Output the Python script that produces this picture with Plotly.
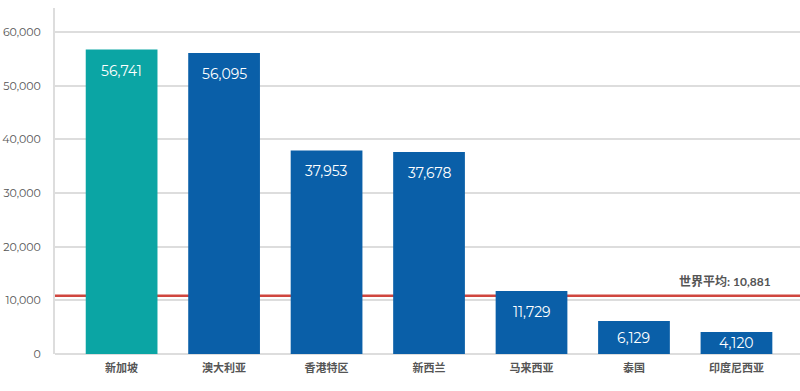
import plotly.graph_objects as go

categories = ["新加坡", "澳大利亚", "香港特区", "新西兰", "马来西亚", "泰国", "印度尼西亚"]
values = [56741, 56095, 37953, 37678, 11729, 6129, 4120]
colors = ["#0BA5A4", "#0A5FA8", "#0A5FA8", "#0A5FA8", "#0A5FA8", "#0A5FA8", "#0A5FA8"]
world_avg = 10881
avg_label = "世界平均: 10,881"
y_ticks = [0, 10000, 20000, 30000, 40000, 50000, 60000]

FIG_W, FIG_H = 800, 391
M_L, M_R, M_T, M_B = 55, 0, 8, 37
Y_MAX = 64500
PLOT_H = FIG_H - M_T - M_B
px_per_unit = PLOT_H / Y_MAX

fig = go.Figure()
fig.add_trace(go.Bar(
    x=list(range(len(categories))), y=values,
    marker=dict(color=colors, line=dict(width=0)),
    width=0.70, hoverinfo="skip",
))
for i, v in enumerate(values):
    shift = min(21, v * px_per_unit / 2)
    fig.add_annotation(x=i, y=v, xref="x", yref="y", yanchor="middle", yshift=-shift,
                       text=f"{v:,}", showarrow=False,
                       font=dict(color="white", size=14, family="Montserrat, Lato, sans-serif"))

fig.add_shape(type="line", xref="paper", x0=0, x1=1, yref="y", y0=world_avg, y1=world_avg,
              line=dict(color="#D0463F", width=2.5), layer="below")
fig.add_annotation(xref="x", x=6.355, xanchor="right", yref="y", y=world_avg, yanchor="middle",
                   yshift=14, text=f"<b>{avg_label}</b>", showarrow=False,
                   font=dict(color="#555555", size=12, family="Lato, Noto Sans CJK SC, sans-serif"))

fig.update_layout(
    width=FIG_W, height=FIG_H,
    margin=dict(l=M_L, r=M_R, t=M_T, b=M_B, pad=0),
    paper_bgcolor="white", plot_bgcolor="white",
    showlegend=False,
    font=dict(family="Lato, Noto Sans CJK SC, sans-serif", color="#555555"),
    xaxis=dict(range=[-0.65, 6.62], tickmode="array", tickvals=list(range(len(categories))),
               ticktext=[f"<b>{c}</b>" for c in categories], showgrid=False, zeroline=False,
               showline=False, ticks="", automargin=False, ticklabelstandoff=6,
               tickfont=dict(size=11, color="#555555", family="Noto Sans CJK SC, sans-serif")),
    yaxis=dict(range=[0, Y_MAX], tickvals=y_ticks, ticktext=[f"{v:,}" for v in y_ticks],
               showgrid=True, gridcolor="#DDDDDD", gridwidth=2, zeroline=True,
               zerolinecolor="#DDDDDD", zerolinewidth=2, showline=True, linecolor="#DDDDDD",
               linewidth=2, ticks="", ticklabelstandoff=10, automargin=False,
               tickfont=dict(size=11, color="#555555", family="Montserrat, Lato, sans-serif")),
)
fig.write_html("out.html", config={"displayModeBar": False, "staticPlot": True},
               post_script="document.body.style.margin='0';document.body.style.overflow='hidden';")
